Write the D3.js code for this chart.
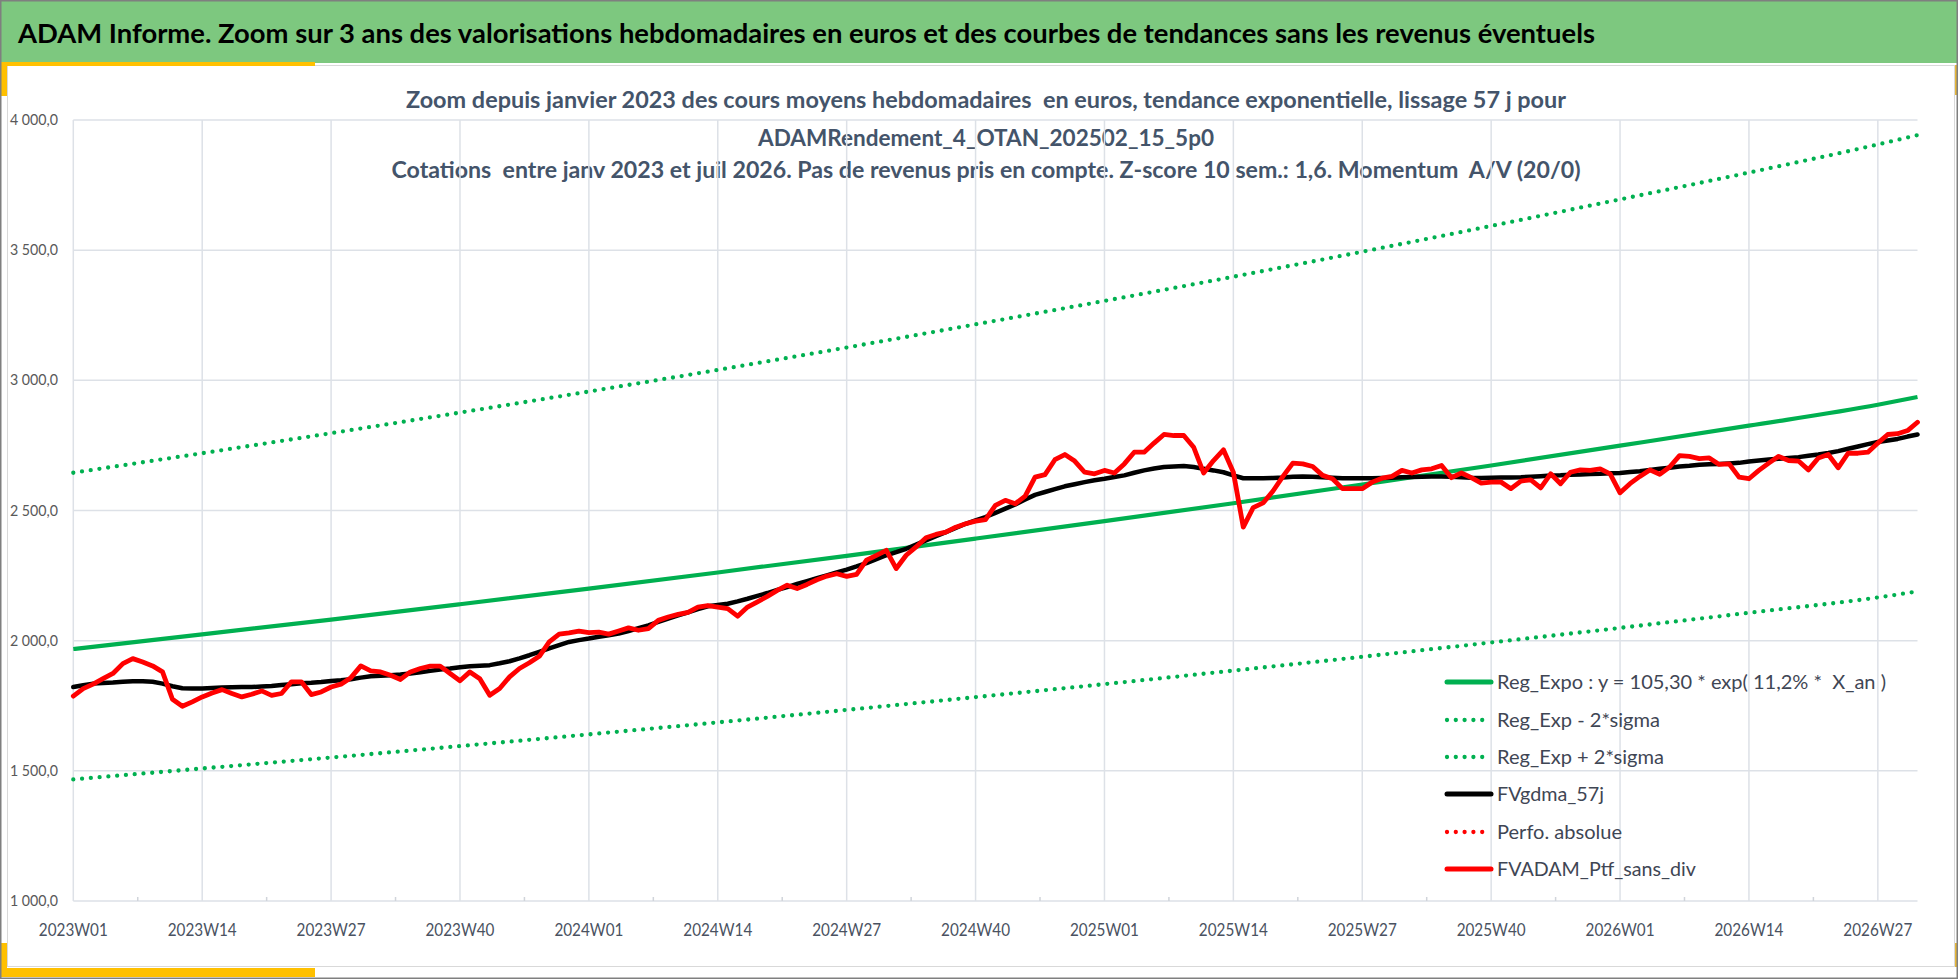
<!DOCTYPE html>
<html>
<head>
<meta charset="utf-8">
<script src="https://cdn.jsdelivr.net/npm/d3@7"></script>
<style>
  html, body { margin: 0; padding: 0; background: #ffffff; }
  svg { display: block; }
  text { font-family: "Lato", "Liberation Sans", Arial, sans-serif; white-space: pre; }
</style>
</head>
<body>
<script>
// ---------- DATA ----------
const weeksPerYear = [[2023, 52], [2024, 52], [2025, 52], [2026, 31]];
const categories = [];
weeksPerYear.forEach(([yr, n]) => { for (let w = 1; w <= n; w++) categories.push(yr + "W" + String(w).padStart(2, "0")); });

const tickLabels = ["2023W01","2023W14","2023W27","2023W40","2024W01","2024W14","2024W27","2024W40",
                    "2025W01","2025W14","2025W27","2025W40","2026W01","2026W14","2026W27"];
const yTicks = [1000, 1500, 2000, 2500, 3000, 3500, 4000];

// trend curves, read at each labelled week and at the last week
const trendWeeks = ["2023W01","2023W14","2023W27","2023W40","2024W01","2024W14","2024W27","2024W40",
                    "2025W01","2025W14","2025W27","2025W40","2026W01","2026W14","2026W27","2026W31"];
const regExpo = [1968, 2024, 2081, 2140, 2200, 2262, 2326, 2392, 2459, 2528, 2600, 2673, 2749, 2826, 2906, 2936];
const regExpMinus = [1467, 1509, 1551, 1595, 1640, 1686, 1734, 1783, 1833, 1885, 1938, 1993, 2049, 2107, 2166, 2189];
const regExpPlus = [2645, 2720, 2797, 2876, 2957, 3040, 3126, 3215, 3305, 3398, 3494, 3593, 3695, 3798, 3906, 3942];

// weekly smoothed value (black)
const fvGdma57j = [
1822,1829,1835,1837,1839,1842,1844,1844,1842,1835,1825,1817,1816,1816,1818,1820,1821,1822,1822,1824,
1826,1830,1833,1836,1838,1841,1845,1848,1852,1858,1863,1865,1867,1870,1874,1879,1884,1889,1893,1898,
1902,1904,1906,1913,1921,1932,1944,1957,1970,1983,1995,2002,2008,2015,2021,2027,2037,2048,2059,2072,
2085,2097,2109,2121,2132,2137,2142,2151,2161,2172,2183,2195,2206,2218,2229,2240,2251,2262,2273,2285,
2298,2313,2328,2340,2353,2369,2385,2401,2417,2433,2449,2462,2475,2491,2507,2523,2542,2560,2571,2582,
2593,2601,2609,2616,2622,2629,2635,2645,2654,2661,2667,2669,2671,2667,2660,2654,2647,2635,2624,2624,
2624,2625,2627,2630,2631,2630,2628,2626,2624,2624,2624,2624,2625,2626,2628,2629,2630,2631,2631,2630,
2628,2626,2625,2626,2627,2627,2628,2630,2632,2634,2635,2637,2638,2640,2641,2643,2644,2648,2651,2656,
2660,2664,2669,2672,2676,2678,2679,2681,2683,2688,2692,2696,2699,2702,2705,2710,2715,2721,2728,2737,
2746,2755,2763,2769,2775,2784,2792];

// weekly portfolio value (red)
const fvAdamPtf = [
1787,1816,1833,1854,1874,1912,1931,1918,1903,1880,1775,1748,1765,1784,1799,1812,1797,1784,1794,1807,
1790,1797,1842,1842,1793,1803,1822,1833,1858,1903,1884,1880,1867,1851,1880,1893,1902,1902,1874,1846,
1880,1854,1790,1816,1861,1893,1915,1940,1995,2025,2030,2037,2031,2033,2025,2037,2049,2040,2046,2078,
2091,2101,2109,2129,2135,2129,2123,2094,2129,2149,2170,2193,2213,2200,2216,2234,2248,2257,2247,2255,
2309,2328,2347,2277,2328,2360,2395,2408,2417,2436,2449,2459,2465,2520,2539,2526,2555,2628,2638,2695,
2715,2690,2647,2641,2654,2644,2679,2724,2724,2759,2792,2788,2788,2743,2644,2692,2733,2647,2436,2511,
2529,2575,2631,2682,2679,2669,2635,2622,2584,2584,2584,2609,2624,2631,2654,2644,2656,2660,2673,2626,
2644,2626,2605,2609,2609,2584,2613,2618,2587,2641,2603,2647,2656,2654,2660,2641,2568,2603,2631,2656,
2639,2667,2711,2708,2699,2702,2677,2679,2628,2622,2654,2682,2708,2692,2690,2656,2702,2715,2664,2720,
2720,2724,2759,2792,2795,2807,2839];

const perfoAbsolue = [];

const legendItems = [
  { label: "Reg_Expo : y = 105,30 * exp( 11,2% *  X_an )", color: "#00B050", dotted: false, len: 389 },
  { label: "Reg_Exp - 2*sigma", color: "#00B050", dotted: true, len: 163 },
  { label: "Reg_Exp + 2*sigma", color: "#00B050", dotted: true, len: 167 },
  { label: "FVgdma_57j", color: "#000000", dotted: false, len: 107 },
  { label: "Perfo. absolue", color: "#FF0000", dotted: true, len: 125 },
  { label: "FVADAM_Ptf_sans_div", color: "#FF0000", dotted: false, len: 199 }
];

const titleText = "ADAM Informe. Zoom sur 3 ans des valorisations hebdomadaires en euros et des courbes de tendances sans les revenus éventuels";
const subTitles = [
  "Zoom depuis janvier 2023 des cours moyens hebdomadaires  en euros, tendance exponentielle, lissage 57 j pour",
  "ADAMRendement_4_OTAN_202502_15_5p0",
  "Cotations  entre janv 2023 et juil 2026. Pas de revenus pris en compte. Z-score 10 sem.: 1,6. Momentum  A/V (20/0)"
];

// ---------- DRAW ----------
const W = 1958, H = 979;
const svg = d3.select("body").append("svg").attr("width", W).attr("height", H);

function txt(parent, x, y, s, o) {
  const t = parent.append("text").attr("x", x).attr("y", y).text(s)
    .attr("font-size", o.size).attr("fill", o.fill || "#000")
    .attr("font-weight", o.weight || "normal")
    .attr("text-anchor", o.anchor || "start");
  if (o.len) t.attr("textLength", o.len).attr("lengthAdjust", "spacingAndGlyphs");
  return t;
}

// background & frames
svg.append("rect").attr("x", 0).attr("y", 0).attr("width", W).attr("height", H).attr("fill", "#fff");
svg.append("rect").attr("x", 7.5).attr("y", 65.5).attr("width", 1947).attr("height", 901)
  .attr("fill", "none").attr("stroke", "#d9d9d9").attr("stroke-width", 1);
svg.append("rect").attr("x", 0).attr("y", 0).attr("width", W).attr("height", 63).attr("fill", "#7DC87F");
// yellow accents
const yel = "#FFC000";
svg.append("rect").attr("x", 0).attr("y", 62).attr("width", 315).attr("height", 4).attr("fill", yel);
svg.append("rect").attr("x", 0).attr("y", 62).attr("width", 7).attr("height", 34).attr("fill", yel);
svg.append("rect").attr("x", 1955).attr("y", 65).attr("width", 3).attr("height", 30).attr("fill", "#E8B83A");
svg.append("rect").attr("x", 0).attr("y", 943).attr("width", 7).attr("height", 34).attr("fill", yel);
svg.append("rect").attr("x", 0).attr("y", 968).attr("width", 315).attr("height", 9).attr("fill", yel);
svg.append("rect").attr("x", 1955).attr("y", 943).attr("width", 3).attr("height", 24).attr("fill", "#E8B83A");
svg.append("rect").attr("x", 0.75).attr("y", 0.75).attr("width", W - 1.5).attr("height", H - 1.5)
  .attr("fill", "none").attr("stroke", "#7f7f7f").attr("stroke-width", 1.5);

// titles
txt(svg, 18, 43, titleText, { size: 27, weight: "bold", fill: "#000", len: 1577 });
const subLens = [1160, 456, 1189];
const subY = [108, 146, 178];
subTitles.forEach((s, i) => txt(svg, 986, subY[i], s, { size: 22, weight: "bold", fill: "#44546A", anchor: "middle", len: subLens[i] }));

// scales
const x = d3.scalePoint().domain(categories).range([73.3, 1917.5]);
const y = d3.scaleLinear().domain([1000, 4000]).range([901, 120]);

const grid = svg.append("g");
const gridColor = "#DDE1E7";
// horizontal gridlines
grid.selectAll("line.h").data(yTicks).join("line")
  .attr("x1", x.range()[0]).attr("x2", 1917.5)
  .attr("y1", d => y(d)).attr("y2", d => y(d))
  .attr("stroke", gridColor).attr("stroke-width", 1.5);
// vertical gridlines
grid.selectAll("line.v").data(tickLabels).join("line")
  .attr("x1", d => x(d)).attr("x2", d => x(d))
  .attr("y1", y(4000)).attr("y2", y(1000))
  .attr("stroke", gridColor).attr("stroke-width", 1.5);
// minor ticks between labels
const mids = tickLabels.slice(0, -1).map((d, i) => (x(d) + x(tickLabels[i + 1])) / 2);
grid.selectAll("line.m").data(mids).join("line")
  .attr("x1", d => d).attr("x2", d => d).attr("y1", y(1000) - 4).attr("y2", y(1000))
  .attr("stroke", "#D0D4DA").attr("stroke-width", 1.5);

// y labels
const fr = d3.formatLocale({ decimal: ",", thousands: "\u00a0", grouping: [3], currency: ["", " €"] });
const fmt = fr.format(",.1f");
yTicks.forEach(v => txt(svg, 58, y(v) + 5, fmt(v), { size: 15, fill: "#595959", anchor: "end", len: 48 }));
// x labels
tickLabels.forEach(c => txt(svg, x(c), 936, c, { size: 17, fill: "#4A5261", anchor: "middle", len: 69 }));

// series
const lineCat = d3.line().x(d => x(d[0])).y(d => y(d[1])).curve(d3.curveMonotoneX);
const lineWeek = d3.line().x(d => x(d[0])).y(d => y(d[1]));
const pairs = (keys, vals) => keys.map((k, i) => [k, vals[i]]);

const plot = svg.append("g").attr("fill", "none").attr("stroke-linejoin", "round");
plot.append("path").attr("d", lineCat(pairs(trendWeeks, regExpo)))
  .attr("stroke", "#00B050").attr("stroke-width", 4.2);
plot.append("path").attr("d", lineCat(pairs(trendWeeks, regExpMinus)))
  .attr("stroke", "#00B050").attr("stroke-width", 4.3).attr("stroke-dasharray", "0 8.8").attr("stroke-linecap", "round");
plot.append("path").attr("d", lineCat(pairs(trendWeeks, regExpPlus)))
  .attr("stroke", "#00B050").attr("stroke-width", 4.3).attr("stroke-dasharray", "0 8.8").attr("stroke-linecap", "round");
plot.append("path").attr("d", lineWeek(pairs(categories, fvGdma57j)))
  .attr("stroke", "#000000").attr("stroke-width", 4.5).attr("stroke-linecap", "round");
if (perfoAbsolue.length) plot.append("path").attr("d", lineWeek(pairs(categories, perfoAbsolue)))
  .attr("stroke", "#FF0000").attr("stroke-width", 4.3).attr("stroke-dasharray", "0 8.8").attr("stroke-linecap", "round");
plot.append("path").attr("d", lineWeek(pairs(categories, fvAdamPtf)))
  .attr("stroke", "#FF0000").attr("stroke-width", 4.8).attr("stroke-linecap", "round");

// legend
const leg = svg.append("g");
const legY = [682, 720, 757, 794, 832, 869];
legendItems.forEach((it, i) => {
  const l = leg.append("line").attr("x1", 1447).attr("x2", 1491).attr("y1", legY[i]).attr("y2", legY[i])
    .attr("stroke", it.color).attr("stroke-linecap", "round");
  if (it.dotted) l.attr("stroke-width", 4.3).attr("stroke-dasharray", "0 8.8");
  else l.attr("stroke-width", 5);
  txt(leg, 1497, legY[i] + 7, it.label, { size: 20, fill: "#3F4654", len: it.len });
});
</script>
</body>
</html>
